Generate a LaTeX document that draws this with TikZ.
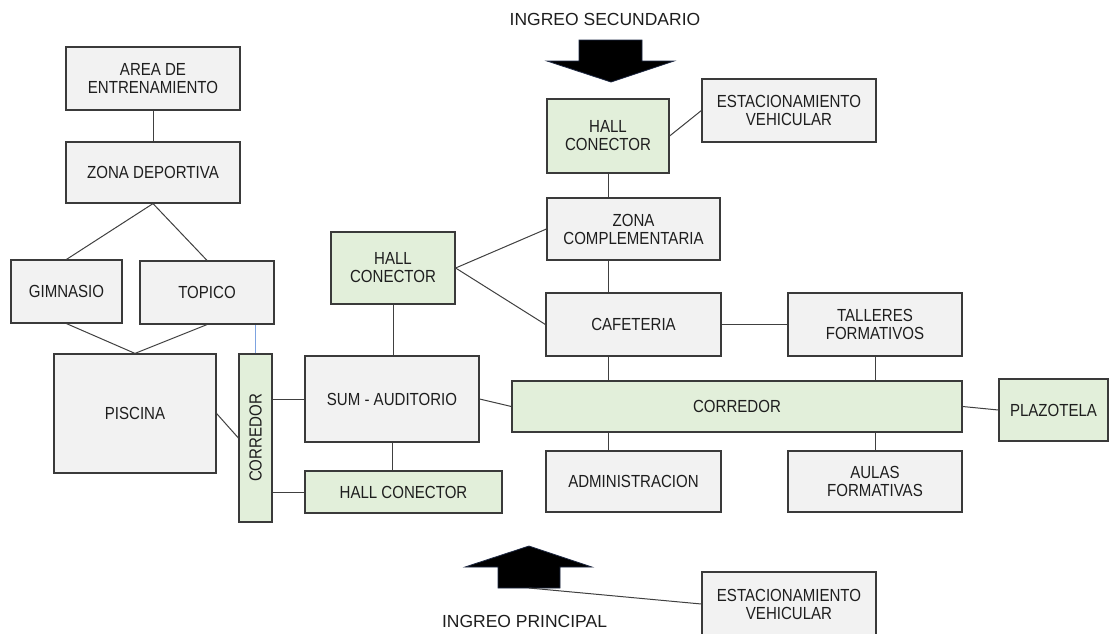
\documentclass[tikz,border=0pt]{standalone}
\usepackage{fontspec}
\setmainfont{Liberation Sans}
\newfontfamily\boxfont{Liberation Sans}[FakeStretch=0.86]
\usetikzlibrary{calc}
\definecolor{boxgray}{HTML}{F2F2F2}
\definecolor{boxgreen}{HTML}{E2EFDA}
\definecolor{edgecol}{HTML}{3A3A3A}
\definecolor{linecol}{HTML}{404040}
\definecolor{bluelink}{HTML}{7DA3E0}
\definecolor{txtcol}{HTML}{1E1E1E}
\definecolor{arrowedge}{HTML}{1F2A44}
\begin{document}
\begin{tikzpicture}[x=1pt,y=-1pt,
  zone/.style={draw=edgecol, line width=1.2pt, fill=boxgray, align=center, inner sep=0pt,
    font=\boxfont\fontsize{17.5}{18}\selectfont, text=txtcol},
  hub/.style={zone, fill=boxgreen},
  link/.style={draw=linecol, line width=1pt},
  caption/.style={font=\fontsize{17.5}{18}\selectfont, text=txtcol, inner sep=0pt, anchor=base},
  bigarrow/.style={fill=black, draw=arrowedge, line width=0.8pt, line join=miter}]
\useasboundingbox (0,0) rectangle (1110,633);
\clip (0,0) rectangle (1110,633);
\fill[white] (0,0) rectangle (1110,633);

% left cluster
\node[zone, minimum width=174pt, minimum height=63pt] (area) at (153,78.5) {AREA DE\\ENTRENAMIENTO};
\node[zone, minimum width=174pt, minimum height=61pt] (zdep) at (153,172.5) {ZONA DEPORTIVA};
\node[zone, minimum width=111pt, minimum height=63pt] (gim) at (66.5,291.5) {GIMNASIO};
\node[zone, minimum width=134pt, minimum height=63pt] (top) at (207,292.5) {TOPICO};
\node[zone, minimum width=162pt, minimum height=119pt] (pis) at (135,413.5) {PISCINA};
\node[hub, minimum width=33pt, minimum height=168pt] (corv) at (255.5,438) {};
\node[rotate=90, font=\boxfont\fontsize{17.5}{18}\selectfont, text=txtcol, inner sep=0pt] (corvtext) at (corv.center) {CORREDOR};

% middle
\node[hub, minimum width=124pt, minimum height=72pt] (hallm) at (393,268) {HALL\\CONECTOR};
\node[zone, minimum width=174pt, minimum height=86pt] (sum) at (392,399) {SUM - AUDITORIO};
\node[hub, minimum width=197pt, minimum height=42pt] (hallb) at (403.5,492) {HALL CONECTOR};

% right cluster
\node[hub, minimum width=122pt, minimum height=74pt] (hallt) at (608,136) {HALL\\CONECTOR};
\node[zone, minimum width=174pt, minimum height=63pt] (estt) at (789,110.5) {ESTACIONAMIENTO\\VEHICULAR};
\node[zone, minimum width=173pt, minimum height=62pt] (zcomp) at (633.5,229) {ZONA\\COMPLEMENTARIA};
\node[zone, minimum width=175pt, minimum height=63pt] (caf) at (633.5,324.5) {CAFETERIA};
\node[zone, minimum width=174pt, minimum height=63pt] (tal) at (875,324.5) {TALLERES\\FORMATIVOS};
\node[hub, minimum width=450pt, minimum height=51pt] (corh) at (737,406.5) {CORREDOR};
\node[zone, minimum width=175pt, minimum height=61pt] (adm) at (633.5,481.5) {ADMINISTRACION};
\node[zone, minimum width=174pt, minimum height=61pt] (aul) at (875,481.5) {AULAS\\FORMATIVAS};
\node[hub, minimum width=109pt, minimum height=62pt] (plaz) at (1053.5,410) {PLAZOTELA};
\node[zone, minimum width=174pt, minimum height=64pt] (estb) at (789,604) {ESTACIONAMIENTO\\VEHICULAR};

% captions and entry arrows
\node[caption] (insec) at (605,25) {INGREO SECUNDARIO};
\node[caption] (inpri) at (524.5,627) {INGREO PRINCIPAL};
\draw[bigarrow] (579,40) -- (642,40) -- (642,61) -- (674,61) -- (611,82) -- (547,61) -- (579,61) -- cycle;
\draw[bigarrow] (529,546) -- (592,567) -- (560,567) -- (560,588) -- (498,588) -- (498,567) -- (465,567) -- cycle;
\coordinate (upbase) at (529,588);

% connectors
\draw[link] (area.south) -- (zdep.north);
\draw[link] (zdep.south) -- (gim.north);
\draw[link] (zdep.south) -- (top.north);
\draw[link] (gim.south) -- (pis.north);
\draw[link] (top.south) -- (pis.north);
\draw[draw=bluelink, line width=1pt] (corv.north) -- (corv.north |- top.south);
\draw[link] (pis.east) -- (corv.west);
\draw[link] (corv.east |- sum.west) -- (sum.west);
\draw[link] (corv.east |- hallb.west) -- (hallb.west);
\draw[link] (hallm.south) -- (hallm.south |- sum.north);
\draw[link] (sum.south) -- (sum.south |- hallb.north);
\draw[link] (sum.east) -- (corh.west);
\draw[link] (hallm.east) -- (zcomp.west);
\draw[link] (hallm.east) -- (caf.west);
\draw[link] (hallt.east) -- (estt.west);
\draw[link] (hallt.south) -- (hallt.south |- zcomp.north);
\draw[link] (hallt.south |- zcomp.south) -- (hallt.south |- caf.north);
\draw[link] (caf.east) -- (tal.west);
\draw[link] (hallt.south |- caf.south) -- (hallt.south |- corh.north);
\draw[link] (tal.south) -- (tal.south |- corh.north);
\draw[link] (hallt.south |- corh.south) -- (hallt.south |- adm.north);
\draw[link] (aul.north |- corh.south) -- (aul.north);
\draw[link] (corh.east) -- (plaz.west);
\draw[link] (upbase) -- (estb.west);
\end{tikzpicture}
\end{document}
